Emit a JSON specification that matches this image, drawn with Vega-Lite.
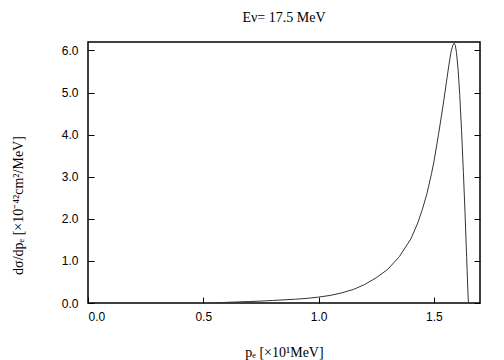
{
  "$schema": "https://vega.github.io/schema/vega-lite/v6.json",
  "width": 392,
  "height": 261,
  "autosize": {"type": "none"},
  "padding": {"left": 88, "top": 42, "right": 24, "bottom": 57},
  "background": "white",
  "title": {
    "text": "Eν= 17.5 MeV",
    "font": "Liberation Serif",
    "fontSize": 14,
    "fontWeight": "normal",
    "color": "black",
    "anchor": "middle",
    "offset": 17
  },
  "config": {
    "view": {"stroke": "black", "strokeWidth": 1.5},
    "axis": {
      "grid": false,
      "domain": false,
      "tickColor": "black",
      "tickSize": -6,
      "tickWidth": 1,
      "labelFont": "Liberation Sans",
      "labelFontSize": 12,
      "labelColor": "black",
      "titleFont": "Liberation Serif",
      "titleFontSize": 14,
      "titleFontWeight": "normal",
      "titleColor": "black"
    }
  },
  "data": {
    "values": [
      {"p": 0.55, "s": 0.0},
      {"p": 0.60, "s": 0.015},
      {"p": 0.65, "s": 0.025},
      {"p": 0.70, "s": 0.035},
      {"p": 0.75, "s": 0.045},
      {"p": 0.80, "s": 0.06},
      {"p": 0.85, "s": 0.075},
      {"p": 0.90, "s": 0.09},
      {"p": 0.95, "s": 0.11},
      {"p": 1.00, "s": 0.14},
      {"p": 1.05, "s": 0.18},
      {"p": 1.10, "s": 0.24},
      {"p": 1.15, "s": 0.32},
      {"p": 1.20, "s": 0.44},
      {"p": 1.25, "s": 0.60},
      {"p": 1.30, "s": 0.80},
      {"p": 1.35, "s": 1.10},
      {"p": 1.40, "s": 1.52},
      {"p": 1.43, "s": 1.90},
      {"p": 1.45, "s": 2.22},
      {"p": 1.47, "s": 2.60},
      {"p": 1.49, "s": 3.08},
      {"p": 1.50, "s": 3.35},
      {"p": 1.52, "s": 4.00},
      {"p": 1.54, "s": 4.70},
      {"p": 1.555, "s": 5.27},
      {"p": 1.565, "s": 5.65},
      {"p": 1.575, "s": 5.98},
      {"p": 1.582, "s": 6.12},
      {"p": 1.588, "s": 6.17},
      {"p": 1.593, "s": 6.12},
      {"p": 1.598, "s": 5.95},
      {"p": 1.605, "s": 5.55},
      {"p": 1.612, "s": 4.95},
      {"p": 1.62, "s": 4.10},
      {"p": 1.628, "s": 3.10},
      {"p": 1.635, "s": 2.15},
      {"p": 1.642, "s": 1.10},
      {"p": 1.648, "s": 0.20},
      {"p": 1.65, "s": 0.0}
    ]
  },
  "layer": [
    {
      "mark": {"type": "line", "color": "#333333", "strokeWidth": 1, "clip": true},
      "encoding": {
        "x": {
          "field": "p", "type": "quantitative",
          "scale": {"domain": [0, 1.7], "nice": false, "zero": false},
          "axis": {
            "values": [0, 0.5, 1, 1.5],
            "format": ".1f",
            "labelPadding": 14,
            "title": "pₑ [×10¹MeV]",
            "titleY": 42
          }
        },
        "y": {
          "field": "s", "type": "quantitative",
          "scale": {"domain": [0, 6.2], "nice": false},
          "axis": {
            "values": [0, 1, 2, 3, 4, 5, 6],
            "format": ".1f",
            "labelPadding": 16,
            "title": "dσ/dpₑ [×10⁻⁴²cm²/MeV]",
            "titleX": -63,
            "titleY": 163
          }
        }
      }
    },
    {
      "mark": {"type": "line", "strokeOpacity": 0, "clip": true},
      "encoding": {
        "x": {"field": "p", "type": "quantitative"},
        "y": {
          "field": "s", "type": "quantitative",
          "axis": {
            "orient": "right",
            "values": [0, 1, 2, 3, 4, 5, 6],
            "labels": false,
            "title": null
          }
        }
      }
    }
  ],
  "resolve": {"axis": {"y": "independent"}}
}
